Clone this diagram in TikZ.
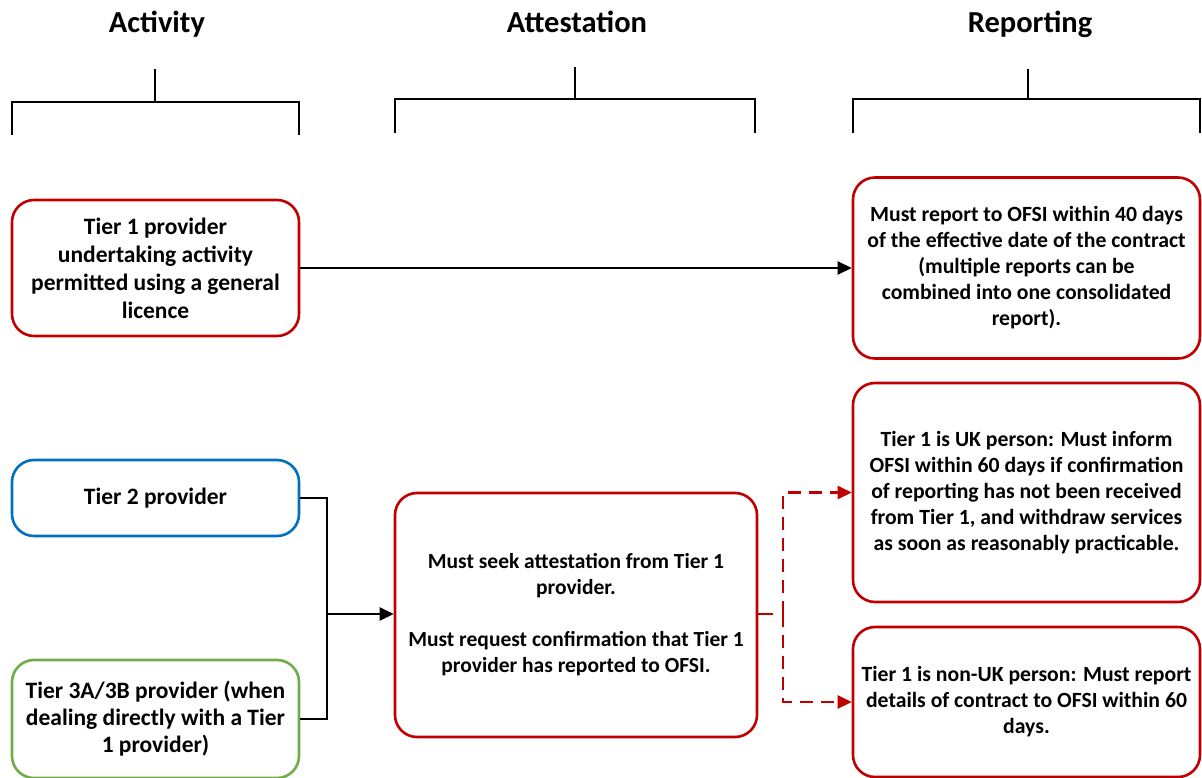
\documentclass[tikz,border=0pt]{standalone}
\usepackage{fontspec}
\setmainfont{Carlito}
\usetikzlibrary{arrows.meta}
\definecolor{cred}{HTML}{C00000}
\definecolor{cblue}{HTML}{0070C0}
\definecolor{cgreen}{HTML}{70AD47}
\tikzset{
  box/.style={draw, line width=2.6pt, rounded corners=22pt, align=center, inner sep=2pt,
    font=\fontsize{21.7}{26}\selectfont\bfseries},
  leftfont/.style={font=\fontsize{23.5}{28}\selectfont\bfseries},
  redbox/.style={box, draw=cred},
  bluebox/.style={box, draw=cblue},
  greenbox/.style={box, draw=cgreen},
  bracket/.style={line width=2.6pt, line cap=butt},
  head/.style={font=\fontsize{30.5}{34}\selectfont\bfseries, anchor=base},
  conn/.style={line width=2.5pt, -{Triangle[length=14pt,width=13pt]}},
  plain/.style={line width=2.5pt},
  rdash/.style={line width=2.5pt, draw=cred, dash pattern=on 13pt off 8pt},
  rarrow/.style={rdash, -{Triangle[length=14pt,width=13pt,fill=cred]}},
}
\begin{document}
\begin{tikzpicture}[x=1pt,y=-1pt]
\useasboundingbox (0,0) rectangle (1202,778);
% headers
\node[head] (hact) at (157,32.5) {Activity};
\node[head] (hatt) at (577,32.5) {Attestation};
\node[head] (hrep) at (1030,32.5) {Reporting};
% brackets
\draw[bracket] (12,135) -- (12,102) -- (299,102) -- (299,135);
\draw[bracket] (155,69) -- (155,102);
\draw[bracket] (395,133) -- (395,99) -- (755,99) -- (755,133);
\draw[bracket] (575,67) -- (575,99);
\draw[bracket] (853,133) -- (853,99) -- (1200,99) -- (1200,133);
\draw[bracket] (1028,69) -- (1028,99);
% boxes
\node[redbox, leftfont, minimum width=287pt, minimum height=136pt] (t1) at (155.5,268)
  {Tier 1 provider\\undertaking activity\\permitted using a general\\licence};
\node[bluebox, leftfont, minimum width=287pt, minimum height=76pt] (t2) at (155.5,498) {Tier 2 provider};
\node[greenbox, minimum width=287pt, minimum height=118pt, font=\fontsize{23.5}{27}\selectfont\bfseries] (t3) at (155.5,719)
  {Tier 3A/3B provider (when\\dealing directly with a Tier\\1 provider)};
\node[redbox, minimum width=362pt, minimum height=244pt, font=\fontsize{21.5}{26}\selectfont\bfseries] (att) at (576,615)
  {Must seek attestation from Tier 1\\provider.\\[26pt]Must request confirmation that Tier 1\\provider has reported to OFSI.};
\node[redbox, minimum width=347pt, minimum height=181pt] (r1) at (1026.5,268)
  {Must report to OFSI within 40 days\\of the effective date of the contract\\(multiple reports can be\\combined into one consolidated\\report).};
\node[redbox, minimum width=347pt, minimum height=219pt] (r2) at (1026.5,492.5)
  {Tier 1 is UK person: Must inform\\OFSI within 60 days if confirmation\\of reporting has not been received\\from Tier 1, and withdraw services\\as soon as reasonably practicable.};
\node[redbox, minimum width=347pt, minimum height=150pt] (r3) at (1026.5,702)
  {Tier 1 is non-UK person: Must report\\details of contract to OFSI within 60\\days.};
% connectors
\draw[conn] (t1.east) -- (r1.west);
\coordinate (j) at (327,614);
\draw[plain] (t2.east) -| (j);
\draw[plain] (t3.east) -| (j);
\draw[conn] (j) -- (att.west|-j);
\coordinate (d) at (783,614);
\draw[line width=2.5pt, draw=cred] (att.east|-d) -- ++(15,0);
\draw[rarrow] (d) |- (r2.west);
\draw[rarrow] (d) |- (r3.west);
\end{tikzpicture}
\end{document}
